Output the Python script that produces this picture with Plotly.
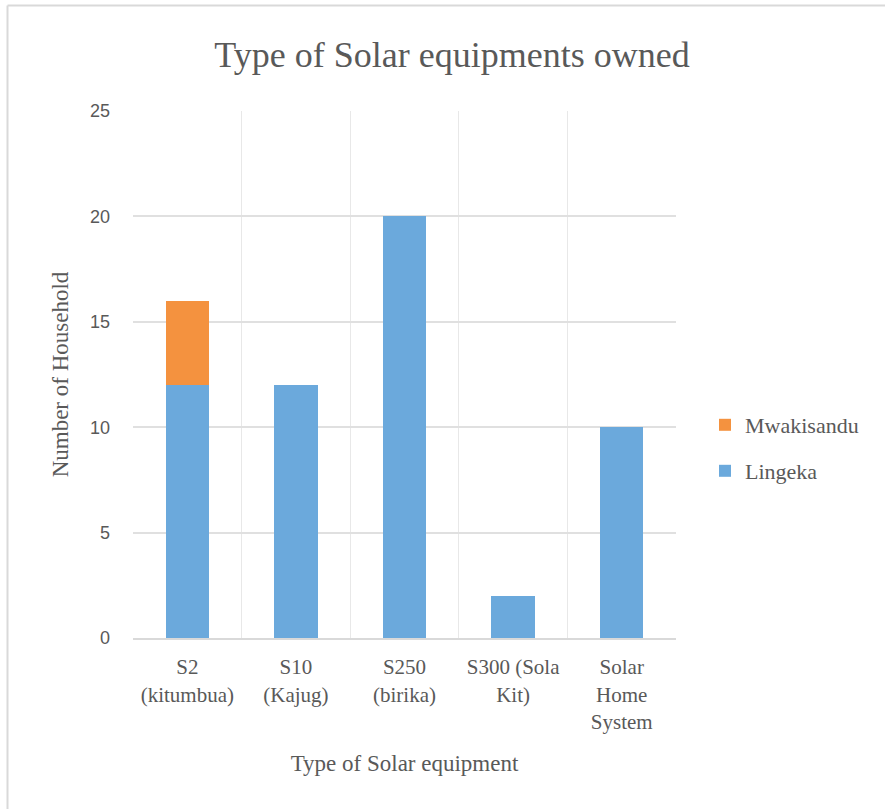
import plotly.graph_objects as go

# Survey counts of solar equipment owned, by village
categories = ["S2<br>(kitumbua)", "S10<br>(Kajug)", "S250<br>(birika)",
              "S300 (Sola<br>Kit)", "Solar<br>Home<br>System"]
lingeka = [12, 12, 20, 2, 10]
mwakisandu = [4, 0, 0, 0, 0]
y_ticks = [0, 5, 10, 15, 20, 25]

W, H = 885, 809
L, R, T, B = 133, 209, 111, 171
pw, ph = W - L - R, H - T - B

serif = "Liberation Serif"
sans = "Liberation Sans"
grey = "#595959"

fig = go.Figure()
fig.add_trace(go.Bar(x=categories, y=lingeka, name="Lingeka",
                     marker=dict(color="#6BA9DC", line=dict(width=0)),
                     legend="legend2"))
fig.add_trace(go.Bar(x=categories, y=mwakisandu, name="Mwakisandu",
                     marker=dict(color="#F4923F", line=dict(width=0)),
                     legend="legend"))

# chart frame (top and left edges)
fx0 = (7.5 - L) / pw
fy1 = (H - B - 5.5) / ph
fig.add_shape(type="line", xref="paper", yref="paper", x0=fx0, x1=(W - L) / pw,
              y0=fy1, y1=fy1, line=dict(color="#d9d9d9", width=2))
fig.add_shape(type="line", xref="paper", yref="paper", x0=fx0, x1=fx0,
              y0=fy1, y1=-(B + 10) / ph, line=dict(color="#d9d9d9", width=2))

legend_common = dict(xanchor="left", yanchor="middle", itemwidth=30,
                     font=dict(family=serif, size=22, color=grey),
                     bgcolor="rgba(0,0,0,0)")

fig.update_layout(
    width=W, height=H,
    margin=dict(l=L, r=R, t=T, b=B),
    paper_bgcolor="white", plot_bgcolor="white",
    barmode="stack", bargap=0.6,
    title=dict(text="Type of Solar equipments owned",
               font=dict(family=serif, size=36, color=grey),
               xref="container", yref="container",
               x=452 / W, y=1 - 54 / H, xanchor="center", yanchor="middle"),
    xaxis=dict(
        type="category", tickson="boundaries", showgrid=True,
        gridcolor="#e8e8e8", gridwidth=1,
        showline=True, linecolor="#d9d9d9", linewidth=2,
        ticks="", ticklabelstandoff=9,
        tickfont=dict(family=serif, size=21, color=grey),
        title=dict(text="Type of Solar equipment", standoff=22,
                   font=dict(family=serif, size=23, color=grey)),
    ),
    yaxis=dict(
        range=[0, 25], tickvals=y_ticks, showgrid=True,
        gridcolor="#e0e0e0", gridwidth=1.5, zeroline=False,
        showline=False, ticks="", ticklabelstandoff=22,
        tickfont=dict(family=sans, size=18, color=grey),
        title=dict(text="Number of Household", standoff=14,
                   font=dict(family=serif, size=23, color=grey)),
    ),
    legend=dict(x=(705 - L) / pw, y=(H - B - 425) / ph, **legend_common),
    legend2=dict(x=(705 - L) / pw, y=(H - B - 471) / ph, **legend_common),
    showlegend=True,
)

fig.write_html("out.html")
